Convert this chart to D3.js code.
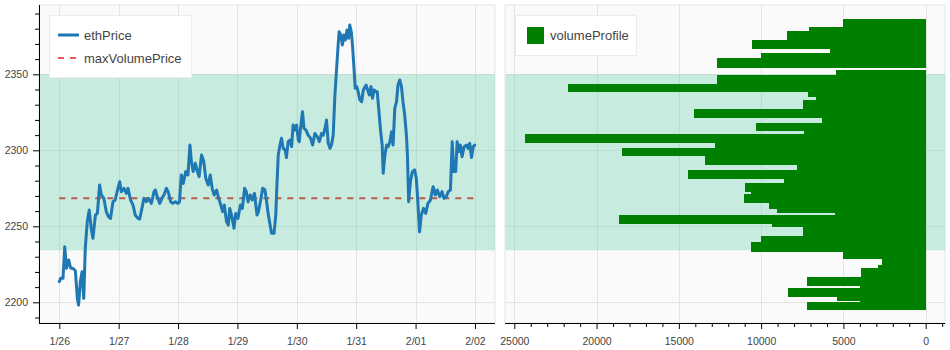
<!DOCTYPE html>
<html><head><meta charset="utf-8">
<script src="https://cdn.jsdelivr.net/npm/d3@7"></script>
<style>
html,body{margin:0;padding:0;background:#fff;}
svg text{font-family:"Liberation Sans",Arial,Helvetica,sans-serif;}
</style></head>
<body><svg id="chart" width="950" height="350"></svg>
<script>
// ---------- DATA ----------
const startDate = new Date(2024, 0, 26, 0, 0);
const priceHours = [0,0.55,1.5,2.2,2.9,3.8,4.6,5.5,6.5,7.3,7.8,8.5,9.2,9.9,10.5,11.3,12.1,12.9,13.6,14.6,15.4,16.3,17.0,18.0,19.0,19.9,20.7,21.7,22.6,23.7,24.4,25.1,26.1,27.1,27.8,28.8,29.8,30.7,31.8,32.5,33.4,34.2,35.2,36.1,37.2,38.3,38.8,39.6,40.6,41.5,42.3,43.3,44.0,45.0,45.9,46.9,48.0,48.6,49.3,50.1,51.1,52.0,52.8,53.4,54.1,55.0,55.8,56.5,57.5,58.4,59.2,60.2,61.0,61.8,62.6,63.6,64.4,65.3,66.0,66.7,67.6,68.3,68.9,69.6,70.6,71.3,72.2,73.2,74.0,74.9,75.6,76.3,77.2,78.0,78.9,79.9,80.5,81.4,82.2,83.1,83.8,84.5,85.2,85.8,86.8,87.5,87.9,88.5,89.2,89.8,90.5,91.3,91.8,92.5,93.2,93.9,94.5,95.2,95.9,96.6,97.0,97.5,98.3,98.9,99.7,100.6,101.6,102.4,103.3,104.3,105.1,106.0,106.7,107.4,108.0,108.7,109.4,110.0,110.7,111.4,112.0,112.7,113.1,113.8,114.4,115.0,115.6,116.3,116.9,117.4,118.0,118.5,119.1,119.6,120.2,120.8,121.5,122.2,122.9,124.0,124.6,125.3,126.0,126.6,127.2,128.0,128.5,129.2,129.9,130.5,130.9,131.6,132.3,132.9,133.6,134.3,134.9,135.6,136.3,136.9,137.6,138.3,138.9,139.6,140.3,140.7,141.2,141.9,142.7,143.6,144.3,145.0,145.6,146.3,147.2,148.1,149.0,150.0,151.1,152.0,152.8,153.8,154.7,155.5,156.4,157.2,158.1,158.8,159.4,160.2,160.8,161.5,162.1,162.8,163.6,164.6,165.2,165.9,166.6,167.3,167.9];
const ethPrice = [2213.6,2215.8,2215.8,2236.6,2222.4,2227.9,2222.4,2222.4,2220.8,2202.6,2198.2,2213.6,2220.1,2202.6,2235.5,2253,2260.7,2248.7,2242.1,2257.4,2258.5,2277.2,2270.6,2268.4,2259.6,2256.3,2255.2,2266.2,2267.3,2275,2279.3,2272.8,2275,2271.7,2275,2267.3,2264,2257.4,2255.2,2254.8,2261.8,2268.4,2266.2,2268.4,2265.1,2272.8,2273.9,2269.5,2265.1,2268.4,2270.6,2275,2272.8,2266.2,2265.1,2266.2,2265.1,2266.2,2283.8,2278.2,2286,2283.8,2303.5,2292.6,2286,2291.5,2286,2282.7,2296.9,2292.6,2281.6,2277.2,2283.8,2275,2270.6,2273.9,2268.4,2264,2259.6,2264,2253,2250.8,2261.8,2257.4,2248.7,2258.5,2255.2,2264,2261.8,2275,2272.8,2266.2,2270.6,2267.3,2271.7,2257.4,2259.6,2267.3,2275,2274,2266.2,2257.4,2250.8,2245.4,2245.4,2257.4,2275,2296.9,2303.5,2307.9,2301.3,2300.2,2295.3,2305.7,2306.8,2302.4,2316.6,2313.3,2316.6,2306.8,2305.7,2314.4,2325.4,2314.4,2313.3,2310,2307.9,2303.5,2311.1,2308.9,2305.7,2311.1,2310,2314.4,2319.9,2304.6,2301.3,2303.5,2310,2336.4,2351.7,2369.3,2378,2375.8,2369.3,2375.8,2372.6,2379.1,2373.7,2382.4,2378,2369.3,2354,2340.8,2341.9,2338.6,2333.1,2332,2339.7,2343,2339.7,2336.4,2341.9,2334.2,2339.7,2338.6,2338.6,2325.4,2312.2,2303.5,2284.9,2296.9,2303.5,2302.4,2305.7,2312.2,2303.5,2327.6,2332,2343,2346.3,2341.9,2332,2323.2,2310,2296.9,2266.2,2279.3,2286,2287.1,2281.6,2264,2246.4,2257.4,2261.8,2258.5,2265.1,2267.3,2276.1,2270.6,2273.9,2269.5,2272.8,2268.4,2269.5,2272.8,2273.9,2305.7,2286,2286,2305.7,2299.1,2303.5,2295.8,2302.4,2303.5,2301.3,2304.6,2295.3,2302.4,2303.5];
const maxVolumePrice = 2268.4;
const valueAreaLow = 2234.2;
const valueAreaHigh = 2350;
// volume profile: price bin edges (top -> bottom) and the volume in each bin
const profileEdges = [2386.4,2380.9,2378.5,2372.3,2366.4,2364.2,2360.5,2354.3,2352.8,2349.5,2343.6,2338.2,2334.9,2333.1,2327.2,2321.3,2318.2,2312.5,2310.7,2305.0,2301.5,2296.1,2290.1,2286.8,2281.3,2278.5,2272.6,2271.4,2265.5,2261.6,2258.8,2257.4,2251.5,2249.3,2243.8,2239.5,2232.9,2228.5,2224.5,2222.4,2216.4,2210.5,2209.4,2203.3,2201.1,2200.4,2194.9];
const profileVolume = [5000,7070,8450,10540,5815,10010,12680,0,5470,12680,21720,7130,6670,7440,14080,6320,10330,7400,24350,12800,18470,13410,7840,14440,8630,10980,10620,11040,9500,9040,5510,18660,9360,7480,10010,10620,5010,2670,2880,3950,7230,4000,8350,5410,4000,7200];
const yTicks = [2200,2250,2300,2350];
const volTicks = [25000,20000,15000,10000,5000,0];
const dayTickLabels = ["1/26","1/27","1/28","1/29","1/30","1/31","2/01","2/02"];
const legendLeft = ["ethPrice","maxVolumePrice"];
const legendRight = ["volumeProfile"];

// ---------- LAYOUT ----------
const svg = d3.select("#chart");
const L = {x0:39, x1:495, y0:5, y1:323};
const R = {x0:505, x1:945, y0:5, y1:323};
const H = 3600*1000;
const t0 = new Date(+startDate - 8.2*H), t1 = new Date(+startDate + 176.1*H);
const x = d3.scaleTime().domain([t0,t1]).range([L.x0,L.x1]);
const y = d3.scaleLinear().domain([2186.4,2395.6]).range([L.y1,L.y0]);
const xv = d3.scaleLinear().domain([25565,-1173]).range([R.x0,R.x1]);

const gridColor = "#e4e4e4", bg = "#fafafa", textColor = "#444";
const bandColor = "mediumaquamarine";
const redColor = "#e0201a";

function panel(P){
  svg.append("rect").attr("x",P.x0).attr("y",P.y0).attr("width",P.x1-P.x0).attr("height",P.y1-P.y0)
    .attr("fill",bg).attr("stroke","#e6e6e6").attr("stroke-width",1);
}
panel(L); panel(R);

const dayTicks = dayTickLabels.map((d,i)=>new Date(+startDate + i*24*H));

// grids left
const gL = svg.append("g");
gL.selectAll(".vg").data(dayTicks).enter().append("line")
  .attr("x1",d=>Math.round(x(d))+0.5).attr("x2",d=>Math.round(x(d))+0.5).attr("y1",L.y0).attr("y2",L.y1)
  .attr("stroke",gridColor);
gL.selectAll(".hg").data(yTicks).enter().append("line")
  .attr("x1",L.x0).attr("x2",L.x1).attr("y1",d=>Math.round(y(d))+0.5).attr("y2",d=>Math.round(y(d))+0.5)
  .attr("stroke",gridColor);
// grids right
const gR = svg.append("g");
gR.selectAll(".vg").data(volTicks).enter().append("line")
  .attr("x1",d=>Math.round(xv(d))+0.5).attr("x2",d=>Math.round(xv(d))+0.5).attr("y1",R.y0).attr("y2",R.y1)
  .attr("stroke",gridColor);
gR.selectAll(".hg").data(yTicks).enter().append("line")
  .attr("x1",R.x0).attr("x2",R.x1).attr("y1",d=>Math.round(y(d))+0.5).attr("y2",d=>Math.round(y(d))+0.5)
  .attr("stroke",gridColor);

// max volume price line (drawn under the band)
svg.append("line")
  .attr("x1",x(startDate)).attr("x2",x(new Date(+startDate+168*H)))
  .attr("y1",y(maxVolumePrice)).attr("y2",y(maxVolumePrice))
  .attr("stroke",redColor).attr("stroke-width",2).attr("stroke-dasharray","6,6");

// value area band on both panels
[[L.x0+0.5,L.x1],[R.x0+0.5,R.x1]].forEach(([a,b])=>{
  svg.append("rect").attr("x",a).attr("width",b-a)
    .attr("y",y(valueAreaHigh)).attr("height",y(valueAreaLow)-y(valueAreaHigh))
    .attr("fill",bandColor).attr("fill-opacity",0.35);
});

// volume profile bars
const bins = profileVolume.map((v,i)=>({v, hi:profileEdges[i], lo:profileEdges[i+1]}));
svg.append("g").selectAll("rect").data(bins).enter().append("rect")
  .attr("x",d=>xv(d.v)).attr("width",d=>xv(0)-xv(d.v))
  .attr("y",d=>y(d.hi)).attr("height",d=>y(d.lo)-y(d.hi))
  .attr("fill","#008000").attr("shape-rendering","crispEdges");

// price line
const pts = priceHours.map((h,i)=>({t:new Date(+startDate + h*H), p:ethPrice[i]}));
svg.append("path").datum(pts)
  .attr("d",d3.line().x(d=>x(d.t)).y(d=>y(d.p)))
  .attr("fill","none").attr("stroke","#1f77b4").attr("stroke-width",3)
  .attr("stroke-linejoin","round").attr("stroke-linecap","round");

// axes
const axL = svg.append("g").attr("transform",`translate(${L.x0},0)`)
  .call(d3.axisLeft(y).tickValues(yTicks).tickSize(6).tickPadding(5).tickFormat(d3.format("d")));
const minorY = d3.range(2190,2400,10).filter(v=>!yTicks.includes(v));
svg.append("g").attr("transform",`translate(${L.x0},0)`)
  .call(d3.axisLeft(y).tickValues(minorY).tickSize(4).tickFormat(""))
  .call(g=>g.select(".domain").remove());
const axB = svg.append("g").attr("transform",`translate(0,${L.y1})`)
  .call(d3.axisBottom(x).tickValues(dayTicks).tickSize(6).tickPadding(9).tickFormat((d,i)=>dayTickLabels[i]));
const axR = svg.append("g").attr("transform",`translate(0,${R.y1})`)
  .call(d3.axisBottom(xv).tickValues(volTicks).tickSize(6).tickPadding(9).tickFormat(d3.format("d")));
const minorV = d3.range(-1000,25001,1000).filter(v=>!volTicks.includes(v));
svg.append("g").attr("transform",`translate(0,${R.y1})`)
  .call(d3.axisBottom(xv).tickValues(minorV).tickSize(4).tickFormat(""))
  .call(g=>g.select(".domain").remove());

svg.selectAll(".domain").attr("stroke","#000").attr("stroke-width",1);
svg.selectAll(".tick line").attr("stroke","#000");
svg.selectAll(".tick text").attr("fill",textColor).style("font-size","10.5px")
  .style("font-family","'Liberation Sans',Arial,sans-serif");
axL.select(".domain").attr("d",`M0.5,${L.y0}V${L.y1}`);
axB.select(".domain").attr("d",`M${L.x0},0.5H${L.x1}`);
axR.select(".domain").attr("d",`M${R.x0},0.5H${R.x1}`);

// legends
const lg = svg.append("g");
lg.append("rect").attr("x",49.5).attr("y",15.5).attr("width",142).attr("height",62)
  .attr("fill","#fff").attr("stroke","#ececec");
lg.append("line").attr("x1",58).attr("x2",79).attr("y1",35).attr("y2",35)
  .attr("stroke","#1f77b4").attr("stroke-width",3);
lg.append("line").attr("x1",58).attr("x2",79).attr("y1",58).attr("y2",58)
  .attr("stroke",redColor).attr("stroke-opacity",0.75).attr("stroke-width",2).attr("stroke-dasharray","6,6");
lg.selectAll("text").data(legendLeft).enter().append("text")
  .attr("x",84).attr("y",(d,i)=>35+i*23).attr("dy","0.35em")
  .attr("fill",textColor).style("font-size","13px").text(d=>d);

const lg2 = svg.append("g");
lg2.append("rect").attr("x",515.5).attr("y",15.5).attr("width",121).attr("height",40)
  .attr("fill","#fff").attr("stroke","#ececec");
lg2.append("rect").attr("x",527).attr("y",27).attr("width",17).attr("height",17).attr("fill","#008000");
lg2.selectAll("text").data(legendRight).enter().append("text")
  .attr("x",550).attr("y",35.5).attr("dy","0.35em")
  .attr("fill",textColor).style("font-size","13px").text(d=>d);
</script></body></html>
